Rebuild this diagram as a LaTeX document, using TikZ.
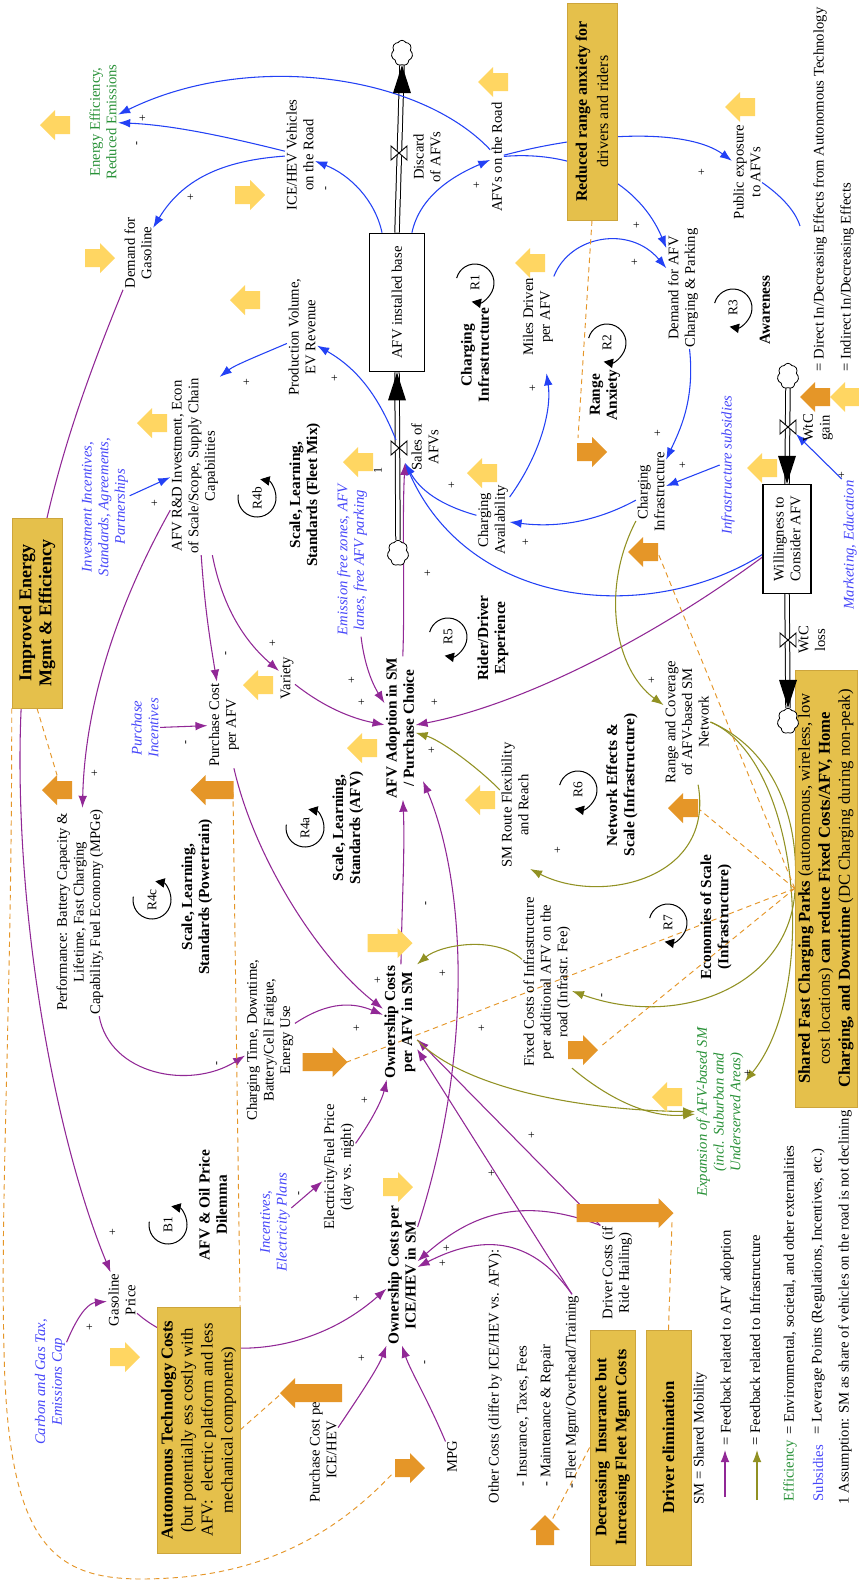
\documentclass[tikz,border=0pt]{standalone}
\usepackage{fontspec}
\setmainfont{Liberation Serif}
\usetikzlibrary{arrows.meta,shapes.symbols}
\definecolor{cblue}{RGB}{35,65,245}
\definecolor{cpur}{RGB}{145,40,150}
\definecolor{col}{RGB}{145,145,35}
\definecolor{gold}{RGB}{229,192,75}
\definecolor{goldd}{RGB}{205,165,60}
\definecolor{yel}{RGB}{255,214,98}
\definecolor{ora}{RGB}{229,150,40}
\definecolor{grn}{RGB}{40,145,55}
\definecolor{levb}{RGB}{70,70,250}
\pgfdeclarelayer{back}
\pgfsetlayers{back,main}
\tikzset{
  lbl/.style={rotate=90, align=center, inner sep=1pt, font=\fontsize{11}{12.5}\selectfont},
  bld/.style={lbl, font=\fontsize{11.5}{12.8}\selectfont\bfseries},
  levl/.style={lbl, text=levb, font=\fontsize{11}{12.5}\selectfont\itshape},
  effl/.style={lbl, text=grn},
  goldbox/.style={rotate=90, align=center, fill=gold, draw=goldd, inner sep=0pt},
  sgn/.style={rotate=90, inner sep=0pt, font=\fontsize{9}{9}\selectfont},
  tipa/.style={-{Latex[length=9pt,width=6.5pt]}},
  bl/.style={draw=cblue, line width=0.8pt, tipa},
  pu/.style={draw=cpur, line width=0.8pt, tipa},
  ol/.style={draw=col, line width=0.8pt, tipa},
  dsh/.style={draw=ora, line width=0.7pt, dash pattern=on 4pt off 3pt},
  pipe/.style={draw=black, line width=0.75pt, double=white, double distance=2.6pt},
  yfa/.pic={\fill[yel] (-#1/2,-9) -- (#1/2-15,-9) -- (#1/2-15,-15) -- (#1/2,0) -- (#1/2-15,15) -- (#1/2-15,9) -- (-#1/2,9) -- cycle;},
  ofa/.pic={\fill[ora] (-#1/2,-9) -- (#1/2-15,-9) -- (#1/2-15,-15) -- (#1/2,0) -- (#1/2-15,15) -- (#1/2-15,9) -- (-#1/2,9) -- cycle;},
  loopA/.pic={\draw[line width=0.75pt,-{Triangle[length=7pt,width=7pt]}] (-165:19) arc[start angle=-165, end angle=100, radius=19];
    \node[rotate=90, inner sep=0pt, font=\fontsize{10}{10}\selectfont] {#1};},
  loopB/.pic={\draw[line width=0.75pt,-{Triangle[length=7pt,width=7pt]}] (190:19) arc[start angle=190, end angle=-80, radius=19];
    \node[rotate=90, inner sep=0pt, font=\fontsize{10}{10}\selectfont] {#1};},
  valve/.pic={\draw[line width=0.7pt, fill=white] (-8,-7) -- (8,7) -- (8,-7) -- (-8,7) -- cycle;},
  flowhead/.pic={\fill (0,0) -- (-9,28) -- (9,28) -- cycle;},
  cld/.style={cloud, draw, cloud puffs=7, cloud puff arc=120, minimum width=16pt, minimum height=19pt, inner sep=0pt, line width=0.6pt, fill=white, aspect=0.85},
}
\begin{document}
\begin{tikzpicture}[x=0.75pt, y=-0.75pt]
\useasboundingbox (0,0) rectangle (859,1581);
\begin{pgfonlayer}{back}
\fill[white] (0,0) rectangle (859,1581);
\end{pgfonlayer}

% ---------- text nodes ----------
\node[effl] (eff) at (103,122) {Energy Efficiency,\\Reduced Emissions};
\node[lbl] (demgas) at (138,253) {Demand for\\Gasoline};
\node[lbl] (ice) at (300,155) {ICE/HEV Vehicles\\on the Road};
\node[lbl] (afvroad) at (497,157) {AFVs on the Road};
\node[lbl] (discard) at (427,157) {Discard\\of AFVs};
\node[lbl, draw, fill=white, line width=0.8pt, minimum width=104pt, minimum height=41pt] (base) at (397,302.5) {AFV installed base};
\node[lbl] (prod) at (302,337) {Production Volume,\\EV Revenue};
\node[lbl] (rd) at (195,466) {AFV R\&D Investment, Econ\\of Scale/Scope, Supply Chain\\Capabilities};
\node[levl] (invinc) at (105,507) {Investment Incentives,\\Standards, Agreements,\\Partnerships};
\node[lbl] (miles) at (538,317) {Miles Driven\\per AFV};
\node[lbl] (public) at (747,172) {Public exposure\\to AFVs};
\node[lbl] (demafv) at (683,288) {Demand for AFV\\Charging \& Parking};
\node[lbl] (sales) at (425,447) {Sales of\\AFVs};
\node[lbl] (chav) at (493,520) {Charging\\Availability};
\node[lbl] (chinf) at (651,492) {Charging\\Infrastructure};
\node[levl] (infsub) at (728,465) {Infrastructure subsidies};
\node[lbl, draw, fill=white, line width=0.8pt, minimum width=82pt, minimum height=36pt] (wtc) at (787,539) {Willingness to\\Consider AFV};
\node[lbl] (wtcgain) at (818,428) {WtC\\gain};
\node[lbl] (wtcloss) at (812,640) {WtC\\loss};
\node[levl] (mkt) at (850,545) {Marketing, Education};
\node[levl] (emis) at (352,560) {Emission free zones, AFV\\lanes, free AFV parking};
\node[lbl] (variety) at (287,678) {Variety};
\node[lbl] (pcafv) at (224,725) {Purchase Cost\\per AFV};
\node[levl] (pinc) at (145,728) {Purchase\\Incentives};
\node[bld] (adopt) at (400,728) {AFV Adoption in SM\\/ Purchase Choice};
\node[lbl] (range) at (687,722) {Range and Coverage\\of AFV-based SM\\Network};
\node[lbl] (smroute) at (515,805) {SM Route Flexibility\\and Reach};
\node[lbl] (perf) at (80,912) {Performance: Battery Capacity \&\\Lifetime, Fast Charging\\Capability, Fuel Economy (MPGe)};
\node[lbl] (chtime) at (270,1040) {Charging Time, Downtime,\\Battery/Cell Fatigue,\\Energy Use};
\node[bld] (owafv) at (400,1022) {Ownership Costs\\per AFV in SM};
\node[lbl] (fixed) at (547,982) {Fixed Costs of Infrastructure\\per additional AFV on the\\road (Infrastr. Fee)};
\node[lbl, text=grn, font=\fontsize{11}{12.5}\selectfont\itshape] (expan) at (720,1112) {Expansion of AFV-based SM\\(incl. Suburban and\\Underserved Areas)};
\node[lbl] (elec) at (339,1167) {Electricity/Fuel Price\\(day vs. night)};
\node[levl] (incel) at (275,1222) {Incentives,\\Electricity Plans};
\node[lbl] (gas) at (122,1300) {Gasoline\\Price};
\node[levl] (carbon) at (50,1382) {Carbon and Gas Tax,\\Emissions Cap};
\node[bld] (owice) at (402,1275) {Ownership Costs per\\ICE/HEV in SM};
\node[lbl] (pcice) at (323,1450) {Purchase Cost per\\ICE/HEV};
\node[lbl] (mpg) at (452,1457) {MPG};
\node[lbl, anchor=west] (oth1) at (495,1505) {Other Costs (differ by ICE/HEV vs. AFV):};
\node[lbl, anchor=west] (oth2) at (523,1488) {- Insurance, Taxes, Fees};
\node[lbl, anchor=west] (oth3) at (547,1488) {- Maintenance \& Repair};
\node[lbl, anchor=west] (fleet) at (572,1490) {- Fleet Mgmt/Overhead/Training};
\node[lbl] (driver) at (617,1273) {Driver Costs (if\\Ride Hailing)};

% loop labels
\node[bld] (l1) at (475,355) {Charging\\Infrastructure};
\node[bld] (l2) at (605,395) {Range\\Anxiety};
\node[bld] (l3) at (765,310) {Awareness};
\node[bld] (l4b) at (305,495) {Scale, Learning,\\Standards (Fleet Mix)};
\node[bld] (l5) at (493,638) {Rider/Driver\\Experience};
\node[bld] (l4a) at (348,828) {Scale, Learning,\\Standards (AFV)};
\node[bld] (l6) at (622,785) {Network Effects \&\\Scale (Infrastructure)};
\node[bld] (l4c) at (197,897) {Scale, Learning,\\Standards (Powertrain)};
\node[bld] (l7) at (716,917) {Economies of Scale\\(Infrastructure)};
\node[bld] (lb1) at (213,1205) {AFV \& Oil Price\\Dilemma};

\pic at (475,283) {loopA=R1};
\pic at (607,343) {loopA=R2};
\pic at (733,308) {loopA=R3};
\pic at (257,498) {loopB=R4b};
\pic at (448,637) {loopA=R5};
\pic at (305,828) {loopB=R4a};
\pic at (578,790) {loopA=R6};
\pic at (152,900) {loopB=R4c};
\pic at (668,923) {loopA=R7};
\pic at (168,1225) {loopB=B1};

% legend texts
\node[lbl, anchor=west] (lg1) at (820,373) {= Direct In/Decreasing Effects from Autonomous Technology};
\node[lbl, anchor=west] (lg2) at (847,373) {= Indirect In/Decreasing Effects};
\node[lbl, anchor=west] (lg3) at (700,1506) {SM = Shared Mobility};
\node[lbl, anchor=west] (lg4) at (727,1447) {= Feedback related to AFV adoption};
\node[lbl, anchor=west] (lg5) at (755,1447) {= Feedback related to Infrastructure};
\node[lbl, anchor=west, text=grn] (lg6k) at (790,1503) {Efficiency};
\node[lbl, anchor=west] (lg6) at (790,1436) {= Environmental, societal, and other externalities};
\node[lbl, anchor=west, text=levb] (lg7k) at (818,1503) {Subsidies};
\node[lbl, anchor=west] (lg7) at (818,1436) {= Leverage Points (Regulations, Incentives, etc.)};
\node[lbl, anchor=west] (lg8) at (845,1506) {1 Assumption: SM as share of vehicles on the road is not declining};

% gold boxes
\node[goldbox, minimum width=163pt, minimum height=37.5pt, font=\fontsize{12}{16}\selectfont] (redbox) at (592,111.5) {\textbf{Reduced range anxiety for}\\drivers and riders};
\node[goldbox, minimum width=142.5pt, minimum height=37.5pt, font=\fontsize{13.5}{15}\selectfont\bfseries] (impbox) at (37,613) {Improved Energy\\Mgmt \& Efficiency};
\node[goldbox, minimum width=184.5pt, minimum height=62pt, font=\fontsize{12.5}{15}\selectfont] (autobox) at (198.5,1430) {\textbf{Autonomous Technology Costs}\\(but potentially ess costly with\\AFV:\ \ electric platform and less\\mechanical components)};
\node[goldbox, minimum width=328pt, minimum height=46.5pt, font=\fontsize{12.5}{15}\selectfont] (sfcbox) at (826,888.5) {\textbf{Shared Fast Charging Parks} (autonomous, wireless, low\\cost locations) \textbf{can reduce Fixed Costs/AFV, Home}\\\textbf{Charging, and Downtime} (DC Charging during non-peak)};
\node[goldbox, minimum width=176pt, minimum height=34pt, font=\fontsize{12}{15}\selectfont\bfseries] (decbox) at (612.5,1447.5) {Decreasing\ \ Insurance but\\Increasing Fleet Mgmt Costs};
\node[goldbox, minimum width=176pt, minimum height=34pt, font=\fontsize{12.5}{15}\selectfont\bfseries] (drvbox) at (668.5,1447.5) {Driver elimination};

% clouds
\node[cld] (c1) at (402,53) {};
\node[cld] (c2) at (398,553) {};
\node[cld] (c3) at (788,376) {};
\node[cld] (c4) at (788,721) {};

% named points
\coordinate (vs) at (405,463);
\coordinate (vs2) at (396,440);
\coordinate (vg) at (796,434);
\coordinate (pubend) at (800,226);
\coordinate (adoptR) at (423,781);
\coordinate (mid1) at (20,760);
\coordinate (mid2) at (795,890);
\coordinate (oa_ra) at (578,438);
\coordinate (oa_imp) at (57,775);
\coordinate (oa_mpg) at (394,1472);
\coordinate (oa_pc) at (233,792);
\coordinate (oa_pcice) at (282,1393);
\coordinate (oa_up) at (552,1520);
\coordinate (oa_drv) at (672,1222);
\coordinate (oa_ci) at (658,553);
\coordinate (oa_r6) at (700,810);
\coordinate (oa_ow) at (347,1062);
\coordinate (oa_fix) at (600,1047);
\coordinate (lgp1) at (725,1497);
\coordinate (lgp2) at (725,1450);
\coordinate (lgo1) at (757,1500);
\coordinate (lgo2) at (757,1450);

% ---------- connectors (background) ----------
\begin{pgfonlayer}{back}
% stock/flow pipes
\draw[pipe] (base.east) -- (c1.south);
\draw[pipe] (c2.north) -- (base.west);
\draw[pipe] (c3.south) -- (wtc.east);
\draw[pipe] (wtc.west) -- (c4.north);

% blue
\draw[bl] (afvroad) .. controls (420,75) and (250,50) .. (eff);
\draw[bl] (ice) .. controls (220,135) and (170,125) .. (eff);
\draw[bl] (ice) .. controls (230,160) and (185,175) .. (demgas);
\draw[bl] (base) .. controls (375,200) and (350,175) .. (ice);
\draw[bl] (base) .. controls (420,195) and (455,175) .. (afvroad);
\draw[bl] (afvroad) .. controls (580,150) and (640,185) .. (demafv);
\draw[bl] (afvroad) .. controls (600,130) and (690,130) .. (public);
\draw[bl] (miles) .. controls (570,235) and (630,225) .. (demafv);
\draw[bl] (demafv) .. controls (695,400) and (680,430) .. (chinf);
\draw[bl] (infsub.north) -- (chinf);
\draw[bl] (chinf) .. controls (590,525) and (550,527) .. (chav);
\draw[bl, shorten >=12pt] (chav) .. controls (540,455) and (552,410) .. (miles);
\draw[bl] (chav) .. controls (440,505) and (420,490) .. (vs);
\draw[bl] (wtc) .. controls (650,625) and (470,610) .. (vs);
\draw[bl] (vs2) .. controls (380,400) and (360,370) .. (prod);
\draw[bl] (prod) .. controls (260,355) and (235,365) .. (rd.south east);
\draw[bl] (invinc) -- (rd);
\draw[bl] (mkt.north east) -- (vg);
\draw[draw=cblue, line width=0.8pt] (public) .. controls (780,195) and (795,210) .. (pubend);

% purple
\draw[pu] (demgas) .. controls (70,420) and (20,560) .. (mid1) .. controls (20,950) and (60,1150) .. (gas);
\draw[pu] (rd) .. controls (120,600) and (85,700) .. (perf);
\draw[pu] (rd) .. controls (205,610) and (210,640) .. (pcafv);
\draw[pu] (rd) .. controls (225,620) and (255,650) .. (variety);
\draw[pu] (pinc) -- (pcafv);
\draw[pu] (variety) .. controls (330,712) and (360,720) .. (adopt);
\draw[pu] (emis) .. controls (365,670) and (375,688) .. (adopt);
\draw[pu] (wtc) .. controls (650,640) and (520,705) .. (adopt);
\draw[pu] (adopt) .. controls (405,600) and (402,520) .. (vs);
\draw[pu] (pcafv) .. controls (255,860) and (320,960) .. (owafv);
\draw[pu] (perf) .. controls (110,1075) and (190,1090) .. (chtime);
\draw[pu] (chtime) .. controls (330,1000) and (355,1003) .. (owafv);
\draw[pu] (owafv) .. controls (402,900) and (405,850) .. (adopt);
\draw[pu] (owice) .. controls (475,1050) and (465,880) .. (adoptR);
\draw[pu] (elec) .. controls (372,1120) and (382,1100) .. (owafv);
\draw[pu] (incel) -- (elec);
\draw[pu] (fleet.east) -- (owafv);
\draw[pu] (driver.north east) -- (owafv);
\draw[pu] (driver.north east) .. controls (520,1195) and (470,1215) .. (owice);
\draw[pu] (fleet.east) .. controls (530,1235) and (480,1235) .. (owice);
\draw[pu] (gas) .. controls (190,1360) and (300,1365) .. (owice);
\draw[pu] (pcice) .. controls (360,1395) and (378,1368) .. (owice.north west);
\draw[pu] (mpg) .. controls (428,1400) and (410,1370) .. (owice.west);
\draw[pu] (carbon) .. controls (80,1310) and (90,1303) .. (gas);

% olive
\draw[ol] (chinf) .. controls (600,590) and (615,670) .. (range);
\draw[ol] (range) .. controls (715,880) and (600,905) .. (smroute.south west);
\draw[ol] (range.south) .. controls (775,750) and (800,820) .. (mid2) .. controls (790,985) and (680,1030) .. (fixed);
\draw[ol] (range.south) .. controls (800,760) and (820,990) .. (expan);
\draw[ol] (smroute) .. controls (475,765) and (440,740) .. (adopt);
\draw[ol] (fixed) .. controls (495,935) and (440,945) .. (owafv.south east);
\draw[ol] (owafv) .. controls (460,1085) and (570,1110) .. (expan);
\draw[ol] (fixed.south west) .. controls (610,1100) and (650,1118) .. (expan);

% legend arrows
\draw[pu] (lgp1) -- (lgp2);
\draw[ol] (lgo1) -- (lgo2);

% dashed orange
\draw[dsh] (redbox.west) -- (oa_ra);
\draw[dsh] (impbox.west) -- (oa_imp);
\draw[dsh] (impbox.north west) .. controls (12,1000) and (0,1200) .. (4,1350) .. controls (8,1560) and (60,1585) .. (170,1578) .. controls (270,1572) and (340,1530) .. (oa_mpg);
\draw[dsh] (oa_pc) -- (autobox.south east);
\draw[dsh] (autobox.south) -- (oa_pcice);
\draw[dsh] (decbox.north) -- (oa_up);
\draw[dsh] (drvbox.east) -- (oa_drv);
\draw[dsh] (sfcbox.north) -- (oa_ci);
\draw[dsh] (sfcbox.north) -- (oa_r6);
\draw[dsh] (sfcbox.north) -- (oa_ow);
\draw[dsh] (sfcbox.north) -- (oa_fix);
\end{pgfonlayer}

% flow heads and valves
\pic at (c1.south) {flowhead};
\pic at (base.west) {flowhead};
\pic[rotate=180] at (wtc.east) {flowhead};
\pic[rotate=180] at (c4.north) {flowhead};
\pic at (399,153) {valve};
\pic at (399,448) {valve};
\pic at (788,427) {valve};
\pic at (788,640) {valve};

% signs
\foreach \p in {(143,118),(191,197),(477,185),(335,378),(247,382),(155,503),(533,388),(637,225),(635,262),(702,172),(658,433),(683,465),(452,485),(428,573),(526,542),(842,475),(435,702),(352,680),(362,702),(432,750),(273,643),(95,773),(652,680),(558,850),(748,1073),(443,973),(378,980),(357,1028),(365,1100),(482,1028),(532,1135),(492,1173),(447,1248),(443,1263),(357,1298),(362,1358),(113,1232),(90,1327)}
  \node[sgn] at \p {+};
\foreach \p in {(138,143),(327,188),(227,653),(187,742),(603,995),(427,903),(218,1063),(300,1193),(426,1362)}
  \node[sgn] at \p {-};
\node[sgn] at (378,470) {1};

% fat arrows: yellow
\pic[rotate=180] at (55,125) {yfa=30};
\pic at (250,195) {yfa=30};
\pic at (100,258) {yfa=30};
\pic[rotate=180] at (245,300) {yfa=30};
\pic[rotate=180] at (493,82) {yfa=30};
\pic[rotate=180] at (740,107) {yfa=30};
\pic[rotate=180] at (530,263) {yfa=30};
\pic[rotate=180] at (152,423) {yfa=30};
\pic[rotate=180] at (358,462) {yfa=30};
\pic[rotate=180] at (482,473) {yfa=30};
\pic[rotate=180] at (762,468) {yfa=30};
\pic[rotate=180] at (258,685) {yfa=30};
\pic[rotate=180] at (362,748) {yfa=30};
\pic[rotate=180] at (480,800) {yfa=30};
\pic at (390,943) {yfa=45};
\pic at (398,1187) {yfa=30};
\pic at (125,1357) {yfa=30};
\pic[rotate=180] at (667,1097) {yfa=30};
\pic[rotate=180] at (845,397) {yfa=30};
% fat arrows: orange
\pic at (592,452) {ofa=30};
\pic[rotate=180] at (57,790) {ofa=30};
\pic[rotate=180] at (212,790) {ofa=43};
\pic[rotate=180] at (643,552) {ofa=30};
\pic[rotate=180] at (683,808) {ofa=30};
\pic at (583,1050) {ofa=30};
\pic at (325,1062) {ofa=45};
\pic[rotate=180] at (311,1393) {ofa=62};
\pic at (410,1468) {ofa=30};
\pic[rotate=90] at (545,1530) {ofa=30};
\pic at (625,1213) {ofa=97};
\pic[rotate=180] at (815,397) {ofa=30};
\end{tikzpicture}
\end{document}
